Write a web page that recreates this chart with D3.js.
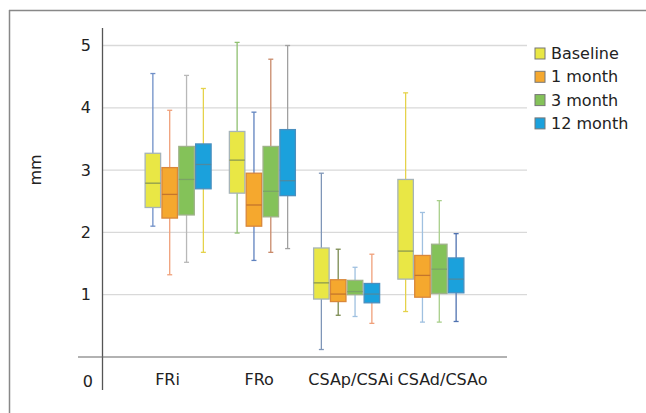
<!DOCTYPE html>
<html>
<head>
<meta charset="utf-8">
<script src="https://cdn.jsdelivr.net/npm/d3@7"></script>
<style>
  body { margin: 0; background: #fff; }
  text { font-family: "DejaVu Sans", sans-serif; fill: #222; }
</style>
</head>
<body>
<script>
// data
var categories = ["FRi", "FRo", "CSAp/CSAi", "CSAd/CSAo"];
var seriesNames = ["Baseline", "1 month", "3 month", "12 month"];
// [min, q1, median, q3, max] per category
var baseline = [[2.10, 2.40, 2.79, 3.27, 4.55], [1.99, 2.63, 3.16, 3.62, 5.05], [0.12, 0.93, 1.19, 1.75, 2.95], [0.73, 1.25, 1.70, 2.85, 4.24]];
var month1   = [[1.32, 2.23, 2.61, 3.04, 3.96], [1.55, 2.10, 2.44, 2.95, 3.93], [0.67, 0.89, 1.01, 1.24, 1.73], [0.56, 0.96, 1.31, 1.63, 2.32]];
var month3   = [[1.52, 2.28, 2.85, 3.38, 4.52], [1.68, 2.25, 2.66, 3.38, 4.78], [0.65, 1.00, 1.05, 1.23, 1.44], [0.56, 1.02, 1.41, 1.81, 2.51]];
var month12  = [[1.68, 2.70, 3.09, 3.42, 4.31], [1.74, 2.59, 2.83, 3.65, 5.00], [0.54, 0.87, 1.01, 1.18, 1.65], [0.57, 1.03, 1.25, 1.59, 1.98]];
var yTicks = [0, 1, 2, 3, 4, 5];

var fills   = ["#e9e745", "#f5a82e", "#84c259", "#1ba1dc"];
var strokes = ["#a6b4b8", "#d9873a", "#9fb28a", "#4a8fbf"];
var medians = ["#8c9a50", "#c4752c", "#7aa466", "#4f8aa0"];
// whisker colours differ box by box in the original (one row per category)
var whiskerColors = [
  ["#6f8fc7", "#f0a07a", "#b8b8b8", "#e5d24a"],
  ["#8fc070", "#5f82bf", "#c98a6a", "#a0a0a0"],
  ["#7f96b8", "#7a8a50", "#9fc0e0", "#f0a07a"],
  ["#e5d24a", "#9fc0e0", "#a8cf8a", "#4f72b0"]
];

var allSeries = [baseline, month1, month3, month12];
var W = 646, H = 413;

var svg = d3.select("body").append("svg").attr("width", W).attr("height", H);

// frame lines top and left
svg.append("line").attr("x1", 9).attr("x2", W).attr("y1", 10.5).attr("y2", 10.5)
  .attr("stroke", "#888").attr("stroke-width", 1.5);
svg.append("line").attr("x1", 9.5).attr("x2", 9.5).attr("y1", 10).attr("y2", H)
  .attr("stroke", "#888").attr("stroke-width", 1.5);

var x = d3.scaleBand().domain(categories).range([136, 473]);
var xs = d3.scaleBand().domain(seriesNames).range([-33, 33]).paddingInner(0.08);
// category labels sit on their own spacing in the original
var xLabel = d3.scalePoint().domain(categories).range([167, 442]);
var y = d3.scaleLinear().domain([0, 5]).range([357, 45.5]);

// gridlines
svg.append("g").selectAll("line").data(yTicks.slice(1)).join("line")
  .attr("x1", 103).attr("x2", 527)
  .attr("y1", function (d) { return y(d); }).attr("y2", function (d) { return y(d); })
  .attr("stroke", "#d9d9d9").attr("stroke-width", 1.3);

// y axis
var yAxis = d3.axisLeft(y).tickValues(yTicks.slice(1)).tickFormat(d3.format("d"))
  .tickSize(0).tickPadding(11);
var yg = svg.append("g").attr("transform", "translate(102,0)").call(yAxis);
yg.select(".domain").remove();
yg.selectAll("text").attr("font-size", 16).attr("font-family", "DejaVu Sans");
svg.append("line").attr("x1", 102.5).attr("x2", 102.5).attr("y1", 28).attr("y2", 390)
  .attr("stroke", "#555").attr("stroke-width", 1.3);
svg.append("text").attr("x", 93).attr("y", 387).attr("text-anchor", "end")
  .attr("font-size", 16).text(yTicks[0]);

// x axis
var xAxis = d3.axisBottom(xLabel).tickSize(0).tickPadding(17);
var xg = svg.append("g").attr("transform", "translate(0," + y(0) + ")").call(xAxis);
xg.select(".domain").remove();
xg.selectAll("text").attr("font-size", 16).attr("font-family", "DejaVu Sans");
svg.append("line").attr("x1", 78).attr("x2", 507).attr("y1", y(0)).attr("y2", y(0))
  .attr("stroke", "#666").attr("stroke-width", 1.2);

// y label
svg.append("text").attr("transform", "translate(41,170) rotate(-90)")
  .attr("text-anchor", "middle").attr("font-size", 16).text("mm");

// boxes
categories.forEach(function (cat, ci) {
  allSeries.forEach(function (ser, si) {
    var d = ser[ci];
    var cx = x(cat) + x.bandwidth() / 2 + xs(seriesNames[si]);
    var bw = xs.bandwidth();
    var mid = cx + bw / 2;
    var g = svg.append("g");
    var wc = whiskerColors[ci][si];
    g.append("line").attr("x1", mid).attr("x2", mid).attr("y1", y(d[4])).attr("y2", y(d[0]))
      .attr("stroke", wc).attr("stroke-width", 1.3);
    [d[0], d[4]].forEach(function (v) {
      g.append("line").attr("x1", mid - 2.5).attr("x2", mid + 2.5).attr("y1", y(v)).attr("y2", y(v))
        .attr("stroke", wc).attr("stroke-width", 1.3);
    });
    g.append("rect").attr("x", cx).attr("y", y(d[3])).attr("width", bw).attr("height", y(d[1]) - y(d[3]))
      .attr("fill", fills[si]).attr("stroke", strokes[si]).attr("stroke-width", 1.3);
    g.append("line").attr("x1", cx).attr("x2", cx + bw).attr("y1", y(d[2])).attr("y2", y(d[2]))
      .attr("stroke", medians[si]).attr("stroke-width", 1.3);
  });
});

// legend
var leg = svg.append("g").attr("transform", "translate(535,48)");
seriesNames.forEach(function (name, i) {
  var row = leg.append("g").attr("transform", "translate(0," + (i * 23.3) + ")");
  row.append("rect").attr("x", 0).attr("y", 0).attr("width", 10).attr("height", 11)
    .attr("fill", fills[i]).attr("stroke", "#777").attr("stroke-width", 1);
  row.append("text").attr("x", 16).attr("y", 11).attr("font-size", 16).text(name);
});
</script>
</body>
</html>
